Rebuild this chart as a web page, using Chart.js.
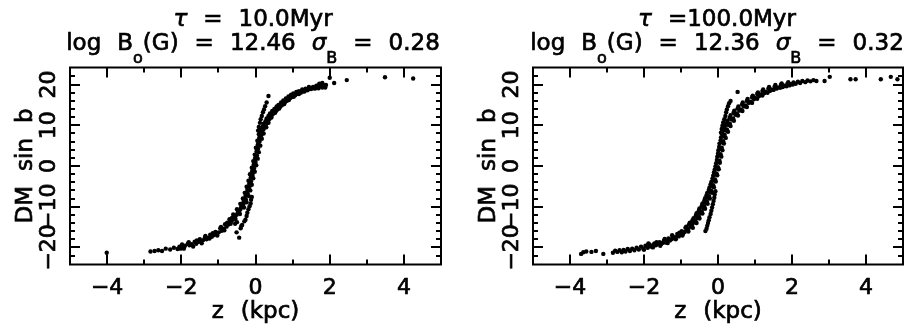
<!DOCTYPE html>
<html>
<head>
<meta charset="utf-8">
<script src="https://cdn.jsdelivr.net/npm/chart.js@4/dist/chart.umd.min.js"></script>
<style>
  html, body { margin: 0; padding: 0; background: #fff; width: 912px; height: 328px; overflow: hidden; }
  canvas { position: absolute; top: 0; }
</style>
</head>
<body>
<canvas id="left" width="456" height="328" style="left:0"></canvas>
<canvas id="right" width="456" height="328" style="left:456px"></canvas>
<script>
// Model parameters shown in each panel title
const tauMyr = [10.0, 100.0];
const logB0 = [12.46, 12.36];
const sigmaB = [0.28, 0.32];

// Axis ranges and labelled ticks
const zRange = [-5, 5];
const dmRange = [-24.2, 24.2];
const zTicks = [-4, -2, 0, 2, 4];
const dmTicks = [-20, -10, 0, 10, 20];

// Pulsars, tau = 10 Myr: z (kpc), DM sin b
const leftBand = [
  [-1.98,-19.3],[-1.95,-20.0],[-1.9,-19.6],
  [-1.82,-19.0],[-1.78,-19.5],[-1.72,-19.2],
  [-1.64,-18.6],[-1.6,-19.1],[-1.55,-18.7],
  [-1.5,-18.0],[-1.46,-18.6],[-1.41,-18.2],
  [-1.36,-17.5],[-1.32,-18.0],[-1.27,-17.6],
  [-1.22,-16.9],[-1.18,-17.4],[-1.13,-17.0],
  [-1.08,-16.2],[-1.04,-16.8],[-0.99,-16.3],
  [-0.95,-15.3],[-0.91,-15.9],[-0.86,-15.4],
  [-0.82,-14.3],[-0.78,-14.9],[-0.73,-14.4],
  [-0.7,-13.1],[-0.66,-13.7],[-0.61,-13.2],
  [-0.6,-11.9],[-0.55,-12.4],[-0.51,-12.0],
  [-0.5,-10.6],[-0.45,-11.1],[-0.41,-10.7],
  [-0.41,-9.3],[-0.37,-9.8],[-0.33,-9.4],
  [-0.34,-8.0],[-0.3,-8.5],[-0.26,-8.2],
  [-0.29,-6.6],[-0.25,-7.1],[-0.21,-6.8],
  [-0.24,-5.1],[-0.2,-5.6],[-0.17,-5.3],
  [-0.19,-3.6],[-0.15,-4.1],[-0.12,-3.8],
  [-0.15,-2.0],[-0.11,-2.5],[-0.08,-2.2],
  [-0.1,-0.4],[-0.07,-0.9],[-0.04,-0.6],
  [-0.06,1.2],[-0.03,0.7],[0.0,1.0],
  [-0.02,2.8],[0.01,2.3],[0.04,2.6],
  [0.01,4.5],[0.04,4.0],[0.07,4.3],
  [0.05,6.2],[0.08,5.7],[0.11,6.0],
  [0.09,7.8],[0.13,7.3],[0.16,7.6],
  [0.15,9.2],[0.19,8.8],[0.22,9.1],
  [0.22,10.4],[0.26,10.0],[0.29,10.3],
  [0.3,11.7],[0.35,11.3],[0.38,11.6],
  [0.39,12.9],[0.44,12.5],[0.47,12.8],
  [0.51,14.0],[0.56,13.6],[0.59,13.9],
  [0.62,15.0],[0.67,14.6],[0.71,14.9],
  [0.75,16.1],[0.8,15.7],[0.84,16.0],
  [0.89,17.1],[0.94,16.7],[0.98,17.0],
  [1.02,17.8],[1.07,17.4],[1.11,17.7],
  [1.17,18.4],[1.22,18.0],[1.27,18.3],
  [1.35,19.0],[1.4,18.6],[1.45,18.9],
  [1.55,19.4],[1.6,19.0],[1.66,19.3],
  [1.75,19.7],[1.8,19.3],[1.86,19.6]
];
const leftBandEdge = [
  [-1.93,-20.3],[-1.8,-18.7],[-1.68,-19.8],[-1.58,-18.3],[-1.45,-19.0],[-1.35,-17.2],
  [-1.24,-17.8],[-1.15,-16.5],[-1.03,-17.1],[-0.93,-15.0],[-0.84,-15.8],[-0.76,-13.9],
  [-0.67,-14.2],[-0.63,-12.7],[-0.54,-13.0],[-0.48,-11.5],[-0.42,-11.8],[-0.39,-10.2],
  [-0.31,-10.2],[-0.32,-8.8],[-0.24,-8.9],[-0.27,-7.4],[-0.18,-7.4],[-0.22,-5.9],
  [-0.14,-6.0],[-0.17,-4.4],[-0.1,-4.6],[-0.13,-2.9],[-0.06,-3.0],[-0.09,-1.3],
  [-0.02,-1.4],[-0.05,0.3],[0.02,0.2],[-0.01,1.9],[0.06,1.8],[0.03,3.6],[0.09,3.4],
  [0.06,5.2],[0.13,5.0],[0.1,6.9],[0.17,6.7],[0.14,8.4],[0.22,8.0],[0.2,9.8],[0.29,9.5],
  [0.27,11.0],[0.35,10.6],[0.35,12.3],[0.43,11.9],[0.45,13.5],[0.53,13.1],[0.57,14.6],
  [0.64,14.1],[0.69,15.6],[0.77,15.2],[0.82,16.6],[0.9,16.2],[0.96,17.5],[1.03,17.0],
  [1.1,18.2],[1.17,17.7],[1.26,18.8],[1.32,18.3],[1.44,19.4],[1.5,18.9],[1.64,19.7],
  [1.7,19.1],[1.82,20.0],[1.88,19.3]
];
const leftBranch = [
  [0.35,17.2],[0.3,15.6],[0.26,14.7],[0.23,13.9],[0.2,13.2],[0.17,12.3],
  [0.14,11.5],[0.12,10.6],[0.09,9.6],[0.07,8.7],
  [-0.1,-7.6],[-0.12,-8.3],[-0.13,-9.2],[-0.16,-9.9],[-0.19,-10.6],[-0.22,-11.5],
  [-0.24,-12.3],[-0.27,-13.2],[-0.3,-13.6],[-0.36,-14.5],[-0.4,-15.3],[-0.44,-17.6],
  [-0.5,-13.8],[-0.55,-14.2],[-0.51,-16.3],[-0.38,-14.7]
];
const leftOutliers = [
  [-4.01,-21.3],[-2.83,-21.0],[-2.72,-20.9],[-2.62,-20.7],[-2.52,-20.9],[-2.42,-20.3],
  [-2.3,-20.5],[-2.2,-20.1],[-2.1,-20.4],[-2.05,-19.8],[-2.02,-20.3],
  [1.72,20.2],[1.8,20.4],[1.9,19.9],
  [2.0,21.7],[2.12,20.4],[2.46,21.1],[3.49,21.8],[4.25,21.5]
];

// Pulsars, tau = 100 Myr: z (kpc), DM sin b
const rightBand = [
  [-2.72,-21.1],[-2.66,-20.7],[-2.6,-21.2],[-2.55,-20.6],[-2.5,-21.0],[-2.44,-20.4],
  [-2.38,-20.9],[-2.32,-20.3],[-2.26,-20.7],[-2.2,-20.1],[-2.14,-20.5],[-2.08,-19.8],
  [-2.02,-20.3],[-1.96,-19.6],[-1.9,-20.1],
  [-1.86,-19.3],[-1.82,-19.8],[-1.78,-19.5],
  [-1.72,-19.0],[-1.68,-19.5],[-1.64,-19.2],
  [-1.58,-18.7],[-1.54,-19.2],[-1.5,-18.9],
  [-1.46,-18.3],[-1.42,-18.8],[-1.38,-18.5],
  [-1.34,-17.8],[-1.3,-18.3],[-1.26,-18.0],
  [-1.22,-17.3],[-1.18,-17.8],[-1.14,-17.5],
  [-1.1,-16.7],[-1.06,-17.3],[-1.02,-16.9],
  [-0.98,-16.0],[-0.94,-16.6],[-0.9,-16.2],
  [-0.88,-15.2],[-0.84,-15.8],[-0.8,-15.4],
  [-0.78,-14.3],[-0.74,-14.9],[-0.7,-14.5],
  [-0.69,-13.3],[-0.65,-13.9],[-0.61,-13.5],
  [-0.6,-12.2],[-0.56,-12.8],[-0.52,-12.4],
  [-0.52,-11.0],[-0.48,-11.6],[-0.44,-11.2],
  [-0.44,-9.8],[-0.4,-10.4],[-0.37,-10.0],
  [-0.37,-8.5],[-0.33,-9.1],[-0.3,-8.7],
  [-0.31,-7.2],[-0.27,-7.8],[-0.24,-7.4],
  [-0.25,-5.9],[-0.21,-6.4],[-0.18,-6.1],
  [-0.2,-4.5],[-0.16,-5.0],[-0.13,-4.7],
  [-0.15,-3.1],[-0.11,-3.6],[-0.08,-3.3],
  [-0.11,-1.6],[-0.07,-2.1],[-0.04,-1.8],
  [-0.07,-0.1],[-0.03,-0.6],[0.0,-0.3],
  [-0.03,1.5],[0.01,1.0],[0.04,1.3],
  [0.0,3.1],[0.04,2.6],[0.07,2.9],
  [0.03,4.7],[0.07,4.2],[0.1,4.5],
  [0.07,6.3],[0.11,5.8],[0.14,6.1],
  [0.11,7.8],[0.15,7.3],[0.18,7.6],
  [0.17,9.2],[0.21,8.7],[0.24,9.0],
  [0.24,10.6],[0.28,10.1],[0.32,10.4],
  [0.32,11.9],[0.37,11.4],[0.41,11.7],
  [0.42,13.1],[0.47,12.6],[0.51,12.9],
  [0.53,14.1],[0.58,13.6],[0.62,13.9],
  [0.65,15.1],[0.7,14.6],[0.74,14.9],
  [0.78,16.0],[0.83,15.5],[0.87,15.8],
  [0.92,16.9],[0.97,16.4],[1.01,16.7],
  [1.06,17.7],[1.11,17.2],[1.15,17.5],
  [1.2,18.4],[1.25,17.9],[1.29,18.2],
  [1.36,19.0],[1.41,18.5],[1.45,18.8],
  [1.53,19.5],[1.58,19.0],[1.62,19.3],
  [1.7,19.9],[1.75,19.4],[1.79,19.7],
  [1.88,20.3],[1.93,19.8],[1.97,20.1],
  [2.04,20.5],[2.1,20.2],[2.16,20.7],[2.22,20.4],[2.28,20.9],[2.36,20.6],
  [2.42,21.0],[2.5,20.8],[2.58,21.1],[2.66,20.9]
];
const rightBandEdge = [
  [-2.0,-20.6],[-1.88,-19.0],[-1.76,-20.0],[-1.66,-18.7],[-1.56,-19.6],[-1.44,-17.9],
  [-1.36,-18.9],[-1.24,-17.0],[-1.14,-18.0],[-1.04,-16.4],[-0.96,-17.1],[-0.86,-14.9],
  [-0.8,-16.1],[-0.76,-13.9],[-0.68,-15.2],[-0.66,-12.8],[-0.58,-14.0],[-0.58,-11.6],
  [-0.5,-12.9],[-0.5,-10.4],[-0.42,-11.7],[-0.42,-9.2],[-0.35,-10.5],[-0.35,-7.9],
  [-0.28,-9.3],[-0.29,-6.6],[-0.22,-8.0],[-0.23,-5.3],[-0.16,-6.6],[-0.18,-3.9],
  [-0.11,-5.2],[-0.13,-2.4],[-0.06,-3.8],[-0.09,-0.9],[-0.02,-2.3],[-0.05,0.7],
  [0.02,-0.8],[-0.02,2.3],[0.05,0.8],[0.01,3.9],[0.09,2.3],[0.04,5.5],[0.12,3.9],
  [0.08,7.0],[0.16,5.5],[0.12,8.5],[0.21,6.9],[0.19,9.9],[0.27,8.4],[0.26,11.2],
  [0.34,9.8],[0.34,12.5],[0.43,11.1],[0.44,13.6],[0.54,12.4],[0.55,14.6],[0.66,13.5],
  [0.67,15.6],[0.78,14.5],[0.8,16.5],[0.92,15.5],[0.94,17.3],[1.06,16.5],[1.08,18.1],
  [1.2,17.3],[1.22,18.8],[1.34,18.0],[1.38,19.4],[1.5,18.7],[1.55,19.9],[1.68,19.2],
  [1.72,20.3],[1.85,19.6],[1.9,20.6],[2.02,20.0]
];
const rightBranch = [
  [0.53,18.2],[0.34,16.0],[0.3,15.4],[0.27,14.7],[0.24,13.9],[0.22,13.2],
  [0.2,12.3],[0.17,11.5],[0.14,10.7],[0.12,9.9],[0.1,9.1],[0.08,8.2],
  [-0.07,-6.2],[-0.09,-7.0],[-0.1,-7.8],[-0.12,-8.6],[-0.14,-9.4],[-0.16,-10.2],
  [-0.18,-11.0],[-0.2,-11.8],[-0.23,-12.6],[-0.25,-13.3],[-0.27,-14.0],
  [-0.29,-14.7],[-0.31,-15.4],[-0.34,-16.0]
];
const rightOutliers = [
  [2.88,20.9],[3.02,21.9],[3.58,21.3],[3.72,21.3],[4.4,21.3],[4.67,21.9],[4.85,21.3],
  [-3.7,-21.6],[-3.64,-21.2],[-3.56,-21.0],[-3.42,-21.1],[-3.3,-20.9],[-3.1,-21.6],
  [-2.84,-21.3],[-2.78,-20.8]
];

const FONT = '"DejaVu Sans", "Liberation Sans", sans-serif';
const MINUS = '\u2212';
const fmtTick = v => (v < 0 ? MINUS + Math.abs(v) : String(v));

// Fill plus a thin outline so the lettering has the weight of a pen plotter
function inkText(ctx, s, x, y) {
  ctx.fillText(s, x, y);
  ctx.lineWidth = 0.7;
  ctx.strokeText(s, x, y);
}

// Draws a run of text pieces; spaces inside a piece become wide gaps,
// pieces flagged "sub" are drawn smaller and lowered.
function drawRich(ctx, pieces, cx, baseline, size, gap) {
  const subSize = Math.round(size * 0.68);
  const items = [];
  pieces.forEach(p => {
    const font = (p.italic ? 'italic ' : '') + (p.sub ? subSize : size) + 'px ' + FONT;
    p.text.split(' ').forEach((w, i) => {
      if (i > 0) items.push({ gap: gap });
      if (w.length) {
        ctx.font = font;
        items.push({ text: w, font: font, dy: p.sub ? size * 0.55 : 0, w: ctx.measureText(w).width });
      }
    });
  });
  const total = items.reduce((s, it) => s + (it.gap || it.w), 0);
  let x = cx - total / 2;
  ctx.textAlign = 'left';
  ctx.textBaseline = 'alphabetic';
  items.forEach(it => {
    if (it.gap) { x += it.gap; return; }
    ctx.font = it.font;
    inkText(ctx, it.text, x, baseline + it.dy);
    x += it.w;
  });
}

// Frame with inward ticks on all four sides, tick labels, axis titles and panel title
const framePlugin = {
  id: 'pgframe',
  afterDraw(chart) {
    const { ctx, chartArea: a, scales: { x, y } } = chart;
    const cfg = chart.options.plugins.pgframe;
    ctx.save();
    ctx.strokeStyle = '#000';
    ctx.fillStyle = '#000';
    ctx.lineWidth = 2;
    ctx.strokeRect(a.left, a.top, a.right - a.left, a.bottom - a.top);

    ctx.beginPath();
    for (let v = Math.ceil(x.min); v <= Math.floor(x.max); v++) {
      const px = Math.round(x.getPixelForValue(v));
      if (px <= a.left + 1 || px >= a.right - 1) continue;
      const len = v % 2 === 0 ? 10 : 5;
      ctx.moveTo(px, a.bottom); ctx.lineTo(px, a.bottom - len);
      ctx.moveTo(px, a.top); ctx.lineTo(px, a.top + len);
    }
    for (let v = -24; v <= 24; v += 2) {
      const py = Math.round(y.getPixelForValue(v));
      if (py <= a.top + 1 || py >= a.bottom - 1) continue;
      const len = v % 10 === 0 ? 10 : 5;
      ctx.moveTo(a.left, py); ctx.lineTo(a.left + len, py);
      ctx.moveTo(a.right, py); ctx.lineTo(a.right - len, py);
    }
    ctx.stroke();

    // x tick labels
    ctx.font = '22px ' + FONT;
    ctx.textAlign = 'center';
    ctx.textBaseline = 'alphabetic';
    zTicks.forEach(v => inkText(ctx, fmtTick(v), x.getPixelForValue(v), a.bottom + 29));

    // y tick labels, written upright along the axis
    dmTicks.forEach(v => {
      ctx.save();
      ctx.translate(a.left - 15, y.getPixelForValue(v));
      ctx.rotate(-Math.PI / 2);
      ctx.textAlign = 'center';
      inkText(ctx, fmtTick(v), 0, 0);
      ctx.restore();
    });

    // axis titles
    drawRich(ctx, [{ text: 'z (kpc)' }], (a.left + a.right) / 2, 318, 23, 17);
    ctx.save();
    ctx.translate(a.left - 38, (a.top + a.bottom) / 2);
    ctx.rotate(-Math.PI / 2);
    drawRich(ctx, [{ text: 'DM sin b' }], 0, 0, 23, 15);
    ctx.restore();

    // panel title
    const cx = cfg.titleX;
    drawRich(ctx, [{ text: '\u03C4', italic: true }, { text: ' ' + cfg.line1 }], cx, 26, 23, 16);
    drawRich(ctx, [
      { text: 'log B' }, { text: 'o', sub: true }, { text: '(G) = ' + cfg.b0 + ' ' },
      { text: '\u03C3', italic: true }, { text: 'B', sub: true }, { text: ' = ' + cfg.sigma }
    ], cx, 50, 23, 16);
    ctx.restore();
  }
};

function makePanel(id, sets, idx, pad, titleX) {
  const tau = tauMyr[idx];
  const line1 = '=' + (tau < 100 ? ' ' : '') + tau.toFixed(1) + 'Myr';
  return new Chart(document.getElementById(id), {
    type: 'scatter',
    data: {
      datasets: sets.map(s => ({
        data: s.map(p => ({ x: p[0], y: p[1] })),
        pointRadius: 2.2,
        pointHoverRadius: 0,
        pointBackgroundColor: '#000',
        pointBorderWidth: 0,
        showLine: false
      }))
    },
    options: {
      responsive: false,
      animation: false,
      events: [],
      layout: { autoPadding: false, padding: pad },
      scales: {
        x: { type: 'linear', min: zRange[0], max: zRange[1], display: false },
        y: { type: 'linear', min: dmRange[0], max: dmRange[1], display: false }
      },
      plugins: {
        legend: { display: false },
        tooltip: { enabled: false },
        pgframe: {
          titleX: titleX,
          line1: line1,
          b0: logB0[idx].toFixed(2),
          sigma: sigmaB[idx].toFixed(2)
        }
      }
    },
    plugins: [framePlugin]
  });
}

makePanel('left', [leftBand, leftBandEdge, leftBranch, leftOutliers], 0,
  { left: 70, right: 15, top: 67.5, bottom: 63.5 }, 253);
makePanel('right', [rightBand, rightBandEdge, rightBranch, rightOutliers], 1,
  { left: 77, right: 9, top: 67.5, bottom: 63.5 }, 261);
</script>
</body>
</html>
